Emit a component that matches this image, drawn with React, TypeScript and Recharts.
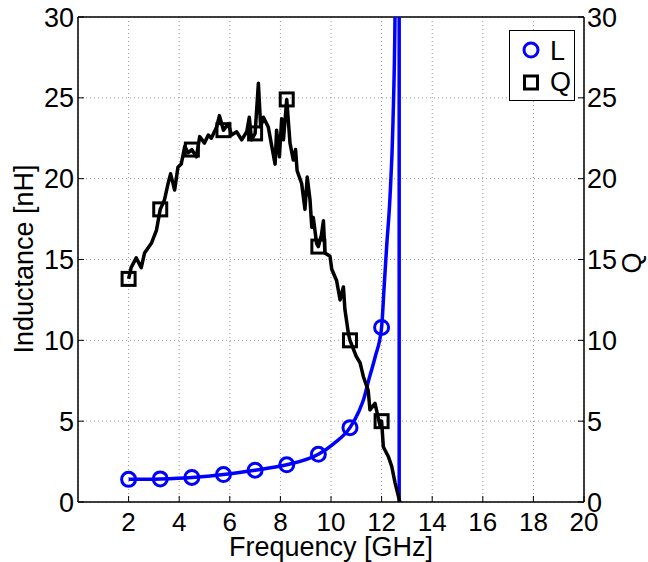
import { ComposedChart, Line, XAxis, YAxis, CartesianGrid, ReferenceLine } from 'recharts';

const FONT = "'Liberation Sans', Arial, Helvetica, sans-serif";

const xTicks = [2, 4, 6, 8, 10, 12, 14, 16, 18, 20];
const yTicks = [0, 5, 10, 15, 20, 25, 30];

// inductance curve (nH) vs frequency (GHz), resonance near 12.7 GHz
const lFreq = [2, 3.25, 4.5, 5.75, 7, 8.25, 9.5, 10.1, 10.75, 11.1, 11.3, 11.5, 11.75, 12, 12.1, 12.2, 12.33, 12.45, 12.53, 12.6, 12.69, 12.7];
const lValue = [1.4, 1.43, 1.52, 1.7, 1.97, 2.3, 2.95, 3.6, 4.6, 5.6, 6.4, 7.6, 9.0, 10.8, 13.3, 15.8, 18.8, 23.5, 30, 45, 400, -400];
const lMarkFreq = [2, 3.25, 4.5, 5.75, 7, 8.25, 9.5, 10.75, 12];
const lMarkValue = [1.4, 1.43, 1.52, 1.7, 1.97, 2.3, 2.95, 4.6, 10.8];

// quality factor
const qFreq = [2, 2.1, 2.3, 2.5, 2.63, 2.9, 3.1, 3.25, 3.42, 3.56, 3.66, 3.82, 3.95, 4.08, 4.22, 4.35, 4.5, 4.68, 4.81, 5, 5.15, 5.27, 5.48, 5.59, 5.75, 5.94, 6.07, 6.27, 6.47, 6.67, 6.77, 6.86, 7, 7.13, 7.22, 7.33, 7.52, 7.66, 7.79, 7.85, 7.96, 8.05, 8.12, 8.25, 8.38, 8.51, 8.6, 8.66, 8.84, 8.97, 9.06, 9.17, 9.24, 9.3, 9.43, 9.5, 9.62, 9.7, 9.76, 9.96, 10.03, 10.22, 10.36, 10.49, 10.55, 10.69, 10.75, 11, 11.15, 11.28, 11.47, 11.54, 11.74, 11.94, 12, 12.07, 12.27, 12.4, 12.53, 12.72, 12.8];
const qValue = [13.8, 14.5, 15.1, 14.5, 15.4, 16.0, 16.8, 18.1, 18.7, 19.7, 20.3, 19.3, 20.7, 20.9, 22.0, 21.6, 21.8, 21.35, 22.6, 22.2, 22.7, 22.5, 23.2, 23.9, 23.0, 23.4, 22.7, 22.9, 22.4, 22.9, 23.8, 22.4, 22.8, 25.9, 23.2, 23.8, 23.2, 22.0, 20.9, 23.0, 21.35, 23.7, 22.4, 24.9, 22.2, 21.15, 21.8, 20.5, 19.7, 18.1, 20.1, 18.7, 17.0, 17.6, 16.0, 15.8, 16.5, 17.4, 15.4, 15.2, 14.4, 13.7, 12.5, 13.3, 11.9, 10.4, 10.0, 9.0, 8.6, 7.75, 6.9, 5.7, 6.1, 4.7, 5.0, 3.4, 2.8, 2.2, 1.2, 0, -0.5];
const qMarkFreq = [2, 3.25, 4.5, 5.75, 7, 8.25, 9.5, 10.75, 12];
const qMarkValue = [13.8, 18.1, 21.8, 23.0, 22.8, 24.9, 15.8, 10.0, 5.0];

const lData = lFreq.map((f, i) => ({ f, v: lValue[i] }));
const lMarks = lMarkFreq.map((f, i) => ({ f, v: lMarkValue[i] }));
const qData = qFreq.map((f, i) => ({ f, v: qValue[i] }));
const qMarks = qMarkFreq.map((f, i) => ({ f, v: qMarkValue[i] }));

const BottomTick = (p: any) => (
  <g>
    <line x1={p.x} x2={p.x} y1={p.y} y2={p.y - 6} stroke="#000" />
    <text x={p.x} y={p.y + 29} textAnchor="middle" fontSize={26} fontFamily={FONT} fill="#000">
      {p.payload.value}
    </text>
  </g>
);

const LeftTick = (p: any) => (
  <g>
    <line x1={p.x} x2={p.x + 6} y1={p.y} y2={p.y} stroke="#000" />
    <text x={p.x - 4} y={p.y + 9.5} textAnchor="end" fontSize={27} fontFamily={FONT} fill="#000">
      {p.payload.value}
    </text>
  </g>
);

const RightTick = (p: any) => (
  <g>
    <line x1={p.x} x2={p.x - 6} y1={p.y} y2={p.y} stroke="#000" />
    <text x={p.x + 3} y={p.y + 9.5} textAnchor="start" fontSize={27} fontFamily={FONT} fill="#000">
      {p.payload.value}
    </text>
  </g>
);

const circleDot = (p: any) => (
  <circle key={`c${p.index}`} cx={p.cx} cy={p.cy} r={7} fill="none" stroke="#0000ff" strokeWidth={3} />
);

const squareDot = (p: any) => (
  <rect key={`s${p.index}`} x={p.cx - 6.5} y={p.cy - 6.5} width={13} height={13} fill="none" stroke="#000" strokeWidth={3} />
);

export default function App() {
  return (
    <div style={{ position: 'absolute', left: 0, top: 0, width: 648, height: 562, background: '#fff' }}>
      <ComposedChart width={648} height={562} margin={{ top: 17, right: 0, bottom: 0, left: 0 }}>
        <CartesianGrid stroke="#999" strokeDasharray="1 3" />
        <XAxis
          dataKey="f"
          type="number"
          domain={[0, 20]}
          ticks={xTicks}
          interval={0}
          height={60}
          tickSize={0}
          tickMargin={0}
          tickLine={false}
          tick={BottomTick}
          axisLine={{ stroke: '#000', strokeWidth: 1.5 }}
        />
        <YAxis
          dataKey="v"
          type="number"
          domain={[0, 30]}
          allowDataOverflow
          ticks={yTicks}
          interval={0}
          width={78}
          tickSize={0}
          tickMargin={0}
          tickLine={false}
          tick={LeftTick}
          axisLine={{ stroke: '#000', strokeWidth: 1.5 }}
        />
        <YAxis
          yAxisId="right"
          orientation="right"
          dataKey="v"
          type="number"
          domain={[0, 30]}
          allowDataOverflow
          ticks={yTicks}
          interval={0}
          width={64}
          tickSize={0}
          tickMargin={0}
          tickLine={false}
          tick={RightTick}
          axisLine={{ stroke: '#000', strokeWidth: 1.5 }}
        />
        <ReferenceLine y={30} stroke="#000" strokeWidth={1.5} />
        <Line data={lData} dataKey="v" type="monotone" stroke="#0000ff" strokeWidth={3.5} dot={false} isAnimationActive={false} />
        <Line data={lMarks} dataKey="v" stroke="none" dot={circleDot} isAnimationActive={false} />
        <Line yAxisId="right" data={qData} dataKey="v" type="linear" stroke="#000" strokeWidth={3.5} strokeLinejoin="round" dot={false} isAnimationActive={false} />
        <Line yAxisId="right" data={qMarks} dataKey="v" stroke="none" dot={squareDot} isAnimationActive={false} />
        <text x={331} y={556} textAnchor="middle" fontSize={27} fontFamily={FONT} fill="#000">
          Frequency [GHz]
        </text>
        <text x={33} y={259} transform="rotate(-90 33 259)" textAnchor="middle" fontSize={27} fontFamily={FONT} fill="#000">
          Inductance [nH]
        </text>
        <text x={641} y={263} transform="rotate(-90 641 263)" textAnchor="middle" fontSize={27} fontFamily={FONT} fill="#000">
          Q
        </text>
      </ComposedChart>
      <div style={{ position: 'absolute', left: 509, top: 30, width: 66, height: 71, boxSizing: 'border-box', border: '1px solid #000', background: '#fff' }}>
        <svg width={64} height={69} style={{ display: 'block' }}>
          <circle cx={21} cy={19} r={7} fill="none" stroke="#0000ff" strokeWidth={3} />
          <text x={40} y={29} fontSize={27} fontFamily={FONT} fill="#000">L</text>
          <rect x={14.5} y={45} width={13} height={13} fill="none" stroke="#000" strokeWidth={3} />
          <text x={40} y={60} fontSize={27} fontFamily={FONT} fill="#000">Q</text>
        </svg>
      </div>
    </div>
  );
}
